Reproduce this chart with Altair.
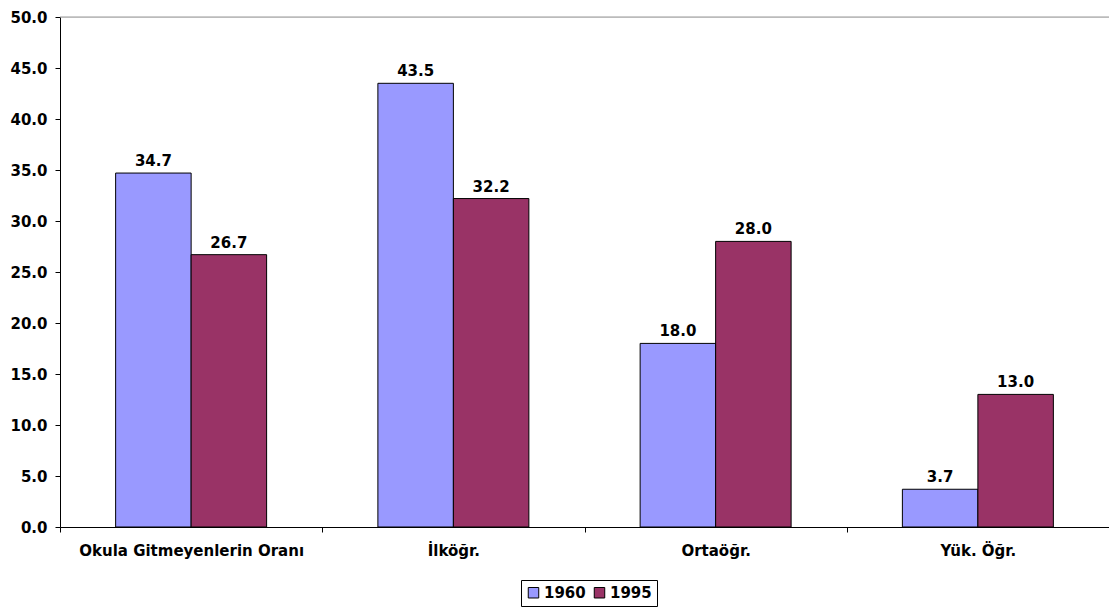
import altair as alt
import pandas as pd

categories = ["Okula Gitmeyenlerin Oranı", "İlköğr.", "Ortaöğr.", "Yük. Öğr."]
years = ["1960", "1995"]
values_1960 = [34.7, 43.5, 18.0, 3.7]
values_1995 = [26.7, 32.2, 28.0, 13.0]
colors = ["#9999FF", "#993366"]

rows = []
for c, a, b in zip(categories, values_1960, values_1995):
    rows.append({"cat": c, "year": years[0], "val": a})
    rows.append({"cat": c, "year": years[1], "val": b})
df = pd.DataFrame(rows)

FONT = "DejaVu Sans"
FS = 15

x = alt.X("cat:N", sort=categories, title=None,
          scale=alt.Scale(paddingInner=0, paddingOuter=0),
          axis=alt.Axis(labelAngle=0, tickBand="extent", tickSize=5, labelPadding=11,
                        labelLimit=0,
                        labelFont=FONT, labelFontWeight="bold", labelFontSize=FS,
                        labelColor="black", domainColor="black", tickColor="black",
                        grid=False))
xo = alt.XOffset("year:N", sort=years,
                 scale=alt.Scale(paddingOuter=0.737, paddingInner=0))
y = alt.Y("val:Q", title=None,
          scale=alt.Scale(domain=[0, 50], nice=False),
          axis=alt.Axis(values=[0, 5, 10, 15, 20, 25, 30, 35, 40, 45, 50], format=".1f",
                        grid=False, tickSize=5, labelPadding=8,
                        labelFont=FONT, labelFontWeight="bold", labelFontSize=FS,
                        labelColor="black", domainColor="black", tickColor="black"))

base = alt.Chart(df)

top_rule = alt.Chart(pd.DataFrame({"v": [50]})).mark_rule(color="#999999", strokeWidth=1).encode(
    y=alt.Y("v:Q", scale=alt.Scale(domain=[0, 50], nice=False))
)

bars = base.mark_bar(stroke="black", strokeWidth=1).encode(
    x=x, xOffset=xo, y=y,
    color=alt.Color("year:N", sort=years,
                    scale=alt.Scale(domain=years, range=colors),
                    legend=alt.Legend(title=None, orient="none", legendX=461, legendY=563,
                                      direction="horizontal", strokeColor="black",
                                      padding=5, symbolType="square", symbolSize=110,
                                      symbolStrokeColor="black", symbolStrokeWidth=1,
                                      labelFont=FONT, labelFontWeight="bold",
                                      labelFontSize=FS, labelColor="black",
                                      columnPadding=6, labelOffset=3)),
)

labels = base.mark_text(dy=-12, font=FONT, fontWeight="bold", fontSize=FS, color="black").encode(
    x=alt.X("cat:N", sort=categories), xOffset=xo, y="val:Q",
    text=alt.Text("val:Q", format=".1f"),
)

chart = alt.layer(top_rule, bars, labels).properties(
    width=1049, height=510,
    autosize=alt.AutoSizeParams(type="none"),
    padding={"left": 52, "top": 9, "right": 0, "bottom": 80},
).configure_view(stroke=None).configure(background="white")

chart.save("out.html", embed_options={"renderer": "svg", "actions": False})
